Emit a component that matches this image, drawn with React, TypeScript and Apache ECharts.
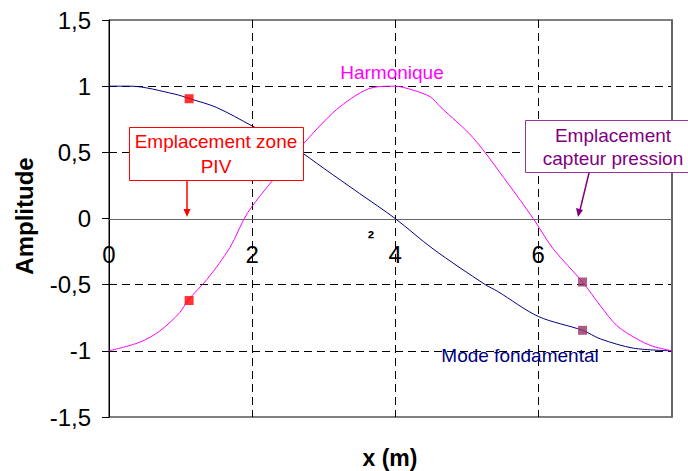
import React, { useEffect, useRef } from "react";
import * as echarts from "echarts";

const fundX = [0, 0.3, 0.92, 1.13, 1.5, 2.0, 2.63, 3.0, 3.5, 4.0, 4.53, 5.26, 5.43, 6.0, 6.62, 6.87, 7.33, 7.87];
const fundY = [1, 1, 0.94, 0.905, 0.84, 0.7, 0.52, 0.38, 0.19, 0, -0.23, -0.5, -0.55, -0.74, -0.845, -0.91, -0.98, -1];
const harmX = [0, 0.43, 0.71, 0.99, 1.1, 1.37, 1.69, 1.94, 2.43, 2.81, 3.23, 3.69, 4.0, 4.25, 4.49, 4.63, 5.09, 5.57, 5.93, 6.21, 6.62, 6.87, 7.1, 7.38, 7.6, 7.87];
const harmY = [-1, -0.935, -0.85, -0.71, -0.62, -0.46, -0.22, 0.045, 0.38, 0.62, 0.845, 0.99, 1, 0.97, 0.92, 0.845, 0.61, 0.27, 0, -0.23, -0.48, -0.66, -0.81, -0.91, -0.965, -1];
const pivX = [1.12, 1.12];
const pivY = [0.905, -0.62];
const pressX = [6.62, 6.62];
const pressY = [-0.48, -0.845];
const xTicks = [0, 2, 4, 6];
const yGridValues = [1, 0.5, -0.5, -1];

const FONT = "Arial, 'Liberation Sans', sans-serif";

export default function App() {
  const ref = useRef<HTMLDivElement>(null);
  useEffect(() => {
    if (!ref.current) return;
    const chart = echarts.init(ref.current, undefined, { renderer: "svg" });
    const pairs = (xs: number[], ys: number[]) => xs.map((x, i) => [x, ys[i]]);
    chart.setOption({
      animation: false,
      backgroundColor: "#fff",
      grid: { left: 109, right: 16, top: 20, bottom: 54, show: true, borderColor: "#000", borderWidth: 1, backgroundColor: "transparent" },
      xAxis: {
        type: "value",
        min: 0,
        max: 7.87,
        interval: 2,
        position: "bottom",
        offset: -198,
        axisLine: { onZero: false, lineStyle: { color: "#666", width: 1 } },
        axisTick: { show: false },
        axisLabel: {
          margin: 23,
          fontSize: 24,
          fontFamily: FONT,
          color: "#000",
          formatter: (v: number) => (xTicks.includes(v) ? String(v) : ""),
        },
        splitLine: { show: true, lineStyle: { color: "#000", type: [8, 5], width: 1 } },
      },
      yAxis: [
        {
          type: "value",
          min: -1.5,
          max: 1.5,
          interval: 0.5,
          axisLine: { show: true, onZero: false, lineStyle: { color: "#000" } },
          axisTick: { show: true, inside: false, length: 7, lineStyle: { color: "#000" } },
          axisLabel: {
            margin: 18,
            fontSize: 24,
            fontFamily: FONT,
            color: "#000",
            formatter: (v: number) => String(v).replace(".", ","),
          },
          splitLine: { show: false },
        },
        {
          type: "value",
          position: "right",
          min: -1.5,
          max: 1.5,
          interval: 0.5,
          z: 3,
          axisLine: { show: true, onZero: false, lineStyle: { color: "#666", width: 2 } },
          axisTick: { show: false },
          axisLabel: { show: false },
          splitLine: { show: false },
        },
      ],
      series: [
        {
          type: "line",
          data: pairs(fundX, fundY),
          showSymbol: false,
          smooth: 0.3,
          lineStyle: { color: "#000080", width: 1 },
          z: 3,
          markLine: {
            silent: true,
            symbol: "none",
            label: { show: false },
            lineStyle: { color: "#000", type: [8, 5], width: 1 },
            data: yGridValues.map((v) => ({ yAxis: v })),
            z: 1,
          },
        },
        {
          type: "line",
          data: pairs(harmX, harmY),
          showSymbol: false,
          smooth: 0.3,
          lineStyle: { color: "#FF00FF", width: 1 },
          z: 3,
        },
        {
          type: "scatter",
          data: pairs(pivX, pivY),
          symbol: "rect",
          symbolSize: 9,
          itemStyle: { color: "#FF0000" },
          z: 4,
        },
        {
          type: "scatter",
          data: pairs(pressX, pressY),
          symbol: "rect",
          symbolSize: 9,
          itemStyle: { color: "#993366" },
          z: 4,
        },
      ],
      graphic: [
        {
          type: "rect",
          shape: { x: 129.5, y: 127.5, width: 174, height: 53 },
          style: { fill: "#fff", stroke: "#FF0000", lineWidth: 1 },
          z: 10,
        },
        {
          type: "text",
          x: 216,
          y: 141,
          style: { text: "Emplacement zone", fill: "#FF0000", font: `19px ${FONT}`, align: "center", verticalAlign: "middle" },
          z: 11,
        },
        {
          type: "text",
          x: 216,
          y: 166,
          style: { text: "PIV", fill: "#FF0000", font: `19px ${FONT}`, align: "center", verticalAlign: "middle" },
          z: 11,
        },
        {
          type: "line",
          shape: { x1: 187, y1: 181, x2: 187, y2: 211 },
          style: { stroke: "#FF0000", lineWidth: 1.5 },
          z: 10,
        },
        {
          type: "polygon",
          shape: { points: [[183.5, 209], [190.5, 209], [187, 217]] },
          style: { fill: "#FF0000" },
          z: 10,
        },
        {
          type: "rect",
          shape: { x: 525.5, y: 120.5, width: 170, height: 52 },
          style: { fill: "#fff", stroke: "#993399", lineWidth: 1 },
          z: 10,
        },
        {
          type: "text",
          x: 613,
          y: 135,
          style: { text: "Emplacement", fill: "#800080", font: `19px ${FONT}`, align: "center", verticalAlign: "middle" },
          z: 11,
        },
        {
          type: "text",
          x: 613,
          y: 158,
          style: { text: "capteur pression", fill: "#800080", font: `19px ${FONT}`, align: "center", verticalAlign: "middle" },
          z: 11,
        },
        {
          type: "line",
          shape: { x1: 589, y1: 173, x2: 580, y2: 210 },
          style: { stroke: "#800080", lineWidth: 1.5 },
          z: 10,
        },
        {
          type: "polygon",
          shape: { points: [[576, 208], [583, 210], [578, 217]] },
          style: { fill: "#800080" },
          z: 10,
        },
        {
          type: "text",
          x: 392,
          y: 72,
          style: { text: "Harmonique", fill: "#FF00FF", font: `19px ${FONT}`, align: "center", verticalAlign: "middle" },
          z: 11,
        },
        {
          type: "text",
          x: 520,
          y: 355,
          style: { text: "Mode fondamental", fill: "#000080", font: `19px ${FONT}`, align: "center", verticalAlign: "middle" },
          z: 11,
        },
        {
          type: "text",
          x: 371,
          y: 238,
          style: { text: "²", fill: "#000", font: `bold 19px ${FONT}`, align: "center", verticalAlign: "middle" },
          z: 11,
        },
        {
          type: "text",
          x: 24,
          y: 216,
          rotation: Math.PI / 2,
          style: { text: "Amplitude", fill: "#000", font: `bold 24px ${FONT}`, align: "center", verticalAlign: "middle" },
          z: 11,
        },
        {
          type: "text",
          x: 390,
          y: 458,
          style: { text: "x (m)", fill: "#000", font: `bold 23px ${FONT}`, align: "center", verticalAlign: "middle" },
          z: 11,
        },
      ],
    });
    return () => chart.dispose();
  }, []);
  return <div ref={ref} style={{ width: 688, height: 471, position: "absolute", left: 0, top: 0 }} />;
}
